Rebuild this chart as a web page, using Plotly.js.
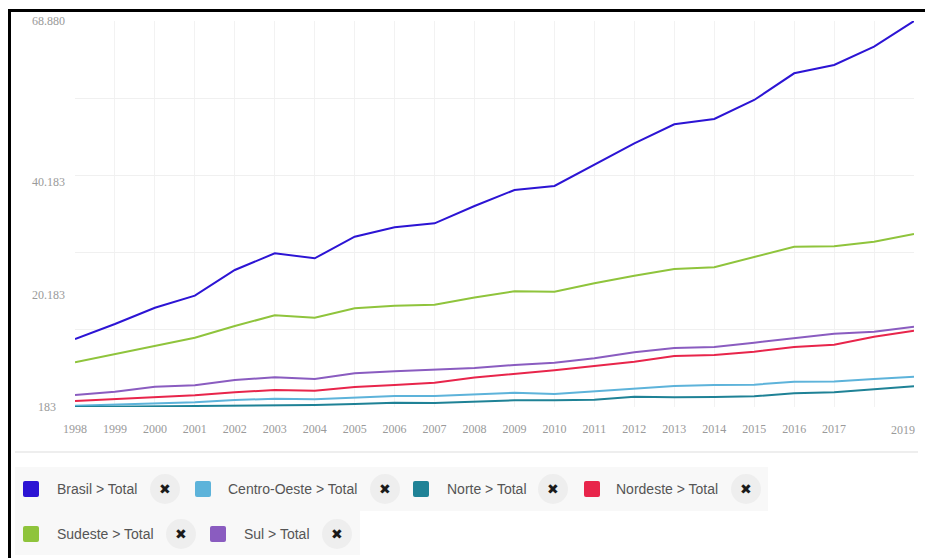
<!DOCTYPE html>
<html>
<head>
<meta charset="utf-8">
<script src="https://cdn.plot.ly/plotly-3.0.1.min.js"></script>
<style>
  html, body { margin: 0; padding: 0; background: #ffffff; }
  #chart { width: 925px; height: 558px; }
</style>
</head>
<body>
<div id="chart"></div>
<script>
// ---------------- DATA ----------------
const years = [1998, 1999, 2000, 2001, 2002, 2003, 2004, 2005, 2006, 2007, 2008,
               2009, 2010, 2011, 2012, 2013, 2014, 2015, 2016, 2017, 2018, 2019];
// the last year label is drawn separately (shifted left so it stays inside the page)
const xTickText = ['1998', '1999', '2000', '2001', '2002', '2003', '2004', '2005', '2006', '2007', '2008',
                   '2009', '2010', '2011', '2012', '2013', '2014', '2015', '2016', '2017', '', ''];
const lastYearLabel = '2019';
const yTickVals = [183, 20183, 40183, 68880];
const yTickText = ['183\u2007\u00a0', '20.183', '40.183', '68.880'];

const seriesNames = ['Brasil > Total', 'Centro-Oeste > Total', 'Norte > Total',
                     'Nordeste > Total', 'Sudeste > Total', 'Sul > Total'];

const brasil = [12285, 14955, 17855, 19991, 24565, 27537, 26647, 30491, 32164, 32876, 35955,
                38802, 39514, 43252, 47114, 50495, 51438, 54820, 59571, 61049, 64306, 68880];
const centroOeste = [414, 592, 841, 1019, 1429, 1660, 1553, 1838, 2141, 2141, 2497,
                     2728, 2497, 2977, 3333, 3920, 4098, 4150, 4686, 4700, 5166, 5576];
const norte = [183, 230, 308, 330, 414, 485, 539, 717, 948, 895, 1197,
               1375, 1400, 1482, 2016, 1909, 1963, 2087, 2621, 2799, 3333, 3867];
const nordeste = [1251, 1607, 2016, 2265, 2799, 3208, 3084, 3742, 4098, 4508, 5433,
                  6056, 6714, 7480, 8245, 9259, 9437, 10025, 10861, 11270, 12694, 13762];
const sudeste = [8138, 9615, 11039, 12516, 14599, 16503, 16076, 17749, 18211, 18389, 19671,
                 20774, 20703, 22198, 23550, 24743, 25045, 26825, 28712, 28783, 29601, 30972];
const sul = [2319, 2906, 3796, 4045, 4988, 5469, 5166, 6181, 6537, 6768, 7124,
             7658, 8067, 8850, 9918, 10683, 10861, 11626, 12463, 13228, 13584, 14474];

const seriesValues = [brasil, centroOeste, norte, nordeste, sudeste, sul];
const seriesColors = ['#2c14d4', '#5db3da', '#1f8296', '#e8254b', '#8fc43c', '#8a5cc0'];

// ---------------- LAYOUT HELPERS ----------------
const W = 925, H = 558;
const M = { l: 75, r: 11, t: 21, b: 151 };
const PW = W - M.l - M.r, PH = H - M.t - M.b;
const px = v => (v - M.l) / PW;
const py = v => (H - M.b - v) / PH;

const yMin = Math.min(...seriesValues.flat());
const yMax = Math.max(...seriesValues.flat());

// All series share the same fixed value range; the grid axis (y) and the
// labelled axis (y2) are identical scales, so any series can sit on either.
const traces = seriesValues.map((vals, i) => ({
  type: 'scatter',
  mode: 'lines',
  x: years,
  y: vals,
  yaxis: i === seriesValues.length - 1 ? 'y2' : 'y',
  name: seriesNames[i],
  line: { color: seriesColors[i], width: 2 },
  hoverinfo: 'x+y+name'
}));

const tickFont = { family: 'Liberation Serif, DejaVu Serif, serif', size: 12, color: '#9a9a9a' };

const shapes = [];
const annotations = [];

// last year tick label
annotations.push({ xref: 'x', yref: 'paper', x: years[years.length - 1], y: py(430),
                   xanchor: 'center', yanchor: 'middle', xshift: -11,
                   text: lastYearLabel, showarrow: false, font: tickFont });

// frame (top and left black edges)
shapes.push({ type: 'line', xref: 'paper', yref: 'paper', x0: px(8), x1: px(925), y0: py(10.5), y1: py(10.5),
              line: { color: '#000000', width: 3 } });
shapes.push({ type: 'line', xref: 'paper', yref: 'paper', x0: px(9.5), x1: px(9.5), y0: py(9), y1: py(558),
              line: { color: '#000000', width: 3 } });
// separator below axis labels
shapes.push({ type: 'line', xref: 'paper', yref: 'paper', x0: px(15), x1: px(918), y0: py(452), y1: py(452),
              line: { color: '#dddddd', width: 1 } });

// legend rows backgrounds
const legendRows = [
  { y: 489, bg: [15, 768, 467, 511] },
  { y: 534, bg: [15, 360, 511, 555] }
];
legendRows.forEach(r => {
  shapes.push({ type: 'rect', xref: 'paper', yref: 'paper', layer: 'below',
                x0: px(r.bg[0]), x1: px(r.bg[1]), y0: py(r.bg[3]), y1: py(r.bg[2]),
                fillcolor: '#f8f8f8', line: { width: 0 } });
});

// rounded square path (pixel geometry converted to paper coords)
function roundedSquare(cx, cy, half, rad) {
  const x0 = cx - half, x1 = cx + half, y0 = cy - half, y1 = cy + half;
  const P = (x, y) => `${px(x)},${py(y)}`;
  return `M${P(x0 + rad, y0)} L${P(x1 - rad, y0)} Q${P(x1, y0)} ${P(x1, y0 + rad)} ` +
         `L${P(x1, y1 - rad)} Q${P(x1, y1)} ${P(x1 - rad, y1)} ` +
         `L${P(x0 + rad, y1)} Q${P(x0, y1)} ${P(x0, y1 - rad)} ` +
         `L${P(x0, y0 + rad)} Q${P(x0, y0)} ${P(x0 + rad, y0)} Z`;
}

// legend entries: [series index, row, square x, text x, close-button x]
const legendItems = [
  [0, 0, 31, 55, 165],
  [1, 0, 203, 226, 385],
  [2, 0, 421, 445, 553],
  [3, 0, 592, 614, 746],
  [4, 1, 31, 55, 181],
  [5, 1, 218, 242, 337]
];
legendItems.forEach(([si, row, sx, tx, cx]) => {
  const cy = legendRows[row].y;
  shapes.push({ type: 'path', xref: 'paper', yref: 'paper',
                path: roundedSquare(sx, cy, 8, 2),
                fillcolor: seriesColors[si], line: { width: 0 } });
  shapes.push({ type: 'circle', xref: 'paper', yref: 'paper',
                x0: px(cx - 15), x1: px(cx + 15), y0: py(cy + 15), y1: py(cy - 15),
                fillcolor: '#eeeeee', line: { width: 0 } });
  annotations.push({ xref: 'paper', yref: 'paper', x: px(tx), y: py(cy), xanchor: 'left', yanchor: 'middle',
                     text: seriesNames[si], showarrow: false,
                     font: { family: 'Liberation Sans, Arial, sans-serif', size: 14, color: '#555555' } });
  annotations.push({ xref: 'paper', yref: 'paper', x: px(cx), y: py(cy), xanchor: 'center', yanchor: 'middle',
                     text: '✖', showarrow: false,
                     font: { family: 'DejaVu Sans, sans-serif', size: 14, color: '#1a1a1a' } });
});

const layout = {
  width: W, height: H,
  margin: M,
  paper_bgcolor: '#ffffff',
  plot_bgcolor: '#ffffff',
  showlegend: false,
  xaxis: {
    range: [years[0], years[years.length - 1]],
    tickmode: 'array', tickvals: years, ticktext: xTickText,
    showgrid: true, gridcolor: '#f2f2f2', gridwidth: 1,
    zeroline: false, showline: false, ticks: '',
    tickfont: tickFont, ticklabelstandoff: 13, tickangle: 0,
    fixedrange: true
  },
  yaxis: {
    range: [yMin, yMax],
    tickmode: 'linear', tick0: yMin, dtick: (yMax - yMin) / 5,
    showticklabels: false, showgrid: true, gridcolor: '#f0f0f0', gridwidth: 1,
    zeroline: false, showline: false, ticks: '', fixedrange: true
  },
  yaxis2: {
    overlaying: 'y', side: 'left',
    range: [yMin, yMax],
    tickmode: 'array', tickvals: yTickVals, ticktext: yTickText,
    showgrid: false, zeroline: false, showline: false, ticks: '',
    tickfont: tickFont, ticklabelstandoff: 9,
    fixedrange: true
  },
  shapes: shapes,
  annotations: annotations
};

Plotly.newPlot('chart', traces, layout, { displayModeBar: false });
</script>
</body>
</html>
